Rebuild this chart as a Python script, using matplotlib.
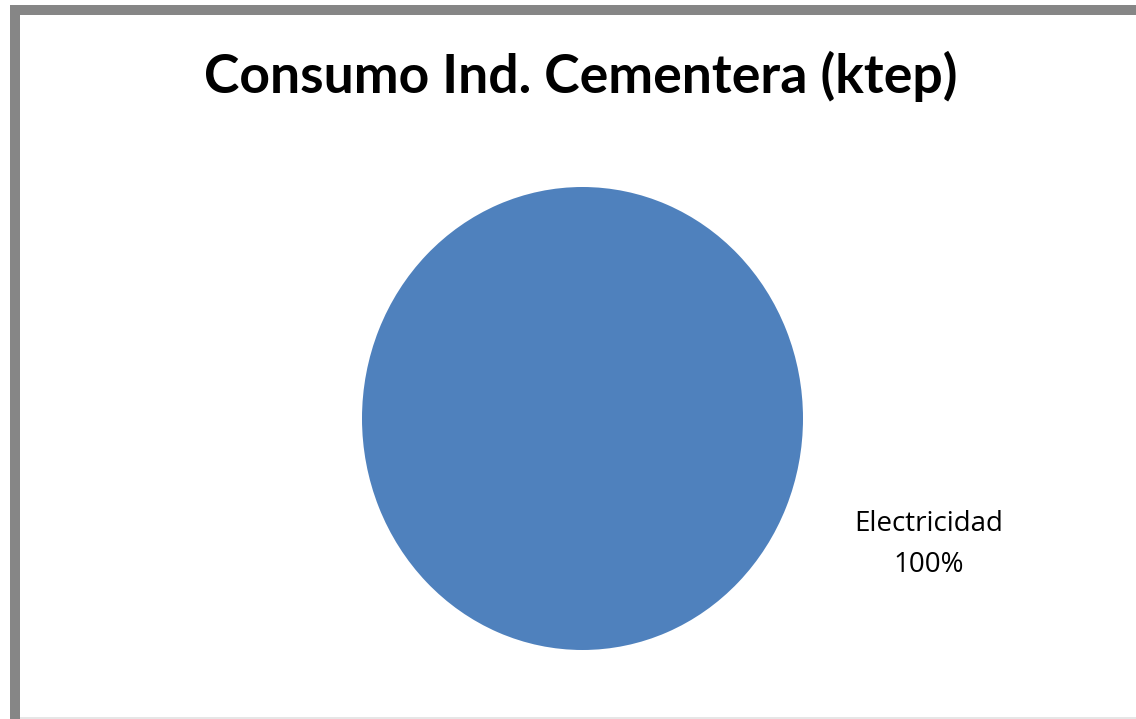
import matplotlib.pyplot as plt
from matplotlib.patches import Rectangle

# data
categorias = ["Electricidad"]
valores = [100.0]
titulo = "Consumo Ind. Cementera (ktep)"
colores = ["#4F81BD"]

W, H = 1136, 719
fig = plt.figure(figsize=(W / 100, H / 100), dpi=100)
fig.patch.set_facecolor("white")

# grey frame of the chart area (left + top edges visible)
fig.patches.append(Rectangle((10 / W, 0), 10 / W, (H - 5) / H, transform=fig.transFigure,
                             facecolor="#868686", edgecolor="none"))
fig.patches.append(Rectangle((10 / W, (H - 15) / H), (W - 10) / W, 10 / H, transform=fig.transFigure,
                             facecolor="#868686", edgecolor="none"))
fig.patches.append(Rectangle((20 / W, 0), (W - 20) / W, 2 / H, transform=fig.transFigure,
                             facecolor="#e6e6e6", edgecolor="none"))

fig.text(581 / W, 1 - 76 / H, titulo, ha="center", va="center",
         fontsize=38.5, fontweight="bold", family=["Lato", "DejaVu Sans"], color="black")

ax = fig.add_axes([362 / W, 1 - 650 / H, 441 / W, 463 / H])
ax.pie(valores, colors=colores, startangle=90, counterclock=False,
       wedgeprops=dict(linewidth=0))
ax.set_aspect("auto")
ax.set_xlim(-1, 1)
ax.set_ylim(-1, 1)
ax.axis("off")

total = sum(valores)
ax.text(1.57, -0.545, f"{categorias[0]}\n{valores[0] / total * 100:.0f}%",
        ha="center", va="center", fontsize=20, linespacing=1.6,
        family=["Open Sans", "DejaVu Sans"], color="black")

fig.savefig("out.png", dpi=100)
